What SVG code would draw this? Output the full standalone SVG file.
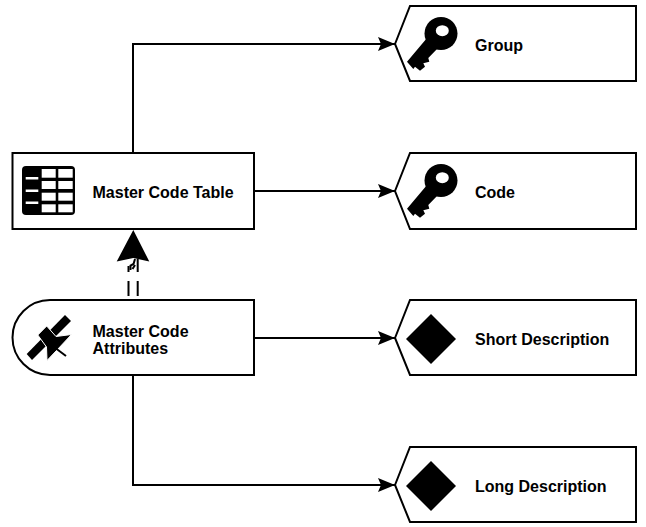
<svg xmlns="http://www.w3.org/2000/svg" width="646" height="527" viewBox="0 0 646 527">
<defs>
<style>
.box{fill:#fff;stroke:#000;stroke-width:2}
.c{fill:none;stroke:#000;stroke-width:2}
.d{fill:none;stroke:#000;stroke-width:2}
.t{font-family:"Liberation Sans",Arial,sans-serif;font-size:16px;font-weight:bold;fill:#000}
.i{fill:#000;stroke:none}
.w{fill:#fff;stroke:none}
</style>
<marker id="a" markerUnits="userSpaceOnUse" markerWidth="18" markerHeight="14" refX="17" refY="7" orient="auto"><path d="M0 0L17 7L0 14L3 7Z" fill="#000"/></marker>
<g id="key">
<circle class="i" cx="34" cy="27.500" r="16.500"/>
<path class="i" d="M0 55.700L20 32L31 42L21.300 52L22.300 55.700L16.300 57.300L18 60.700L13 64.700L8 60.700L6.300 63Z"/>
<ellipse class="w" cx="35.300" cy="24.700" rx="6.500" ry="5.500"/>
</g>
</defs>
<rect width="646" height="527" fill="#fff"/>
<g id="connectors">
<path class="c" marker-end="url(#a)" d="M133 153V44H395"/>
<path class="c" marker-end="url(#a)" d="M254 191H395"/>
<path class="c" marker-end="url(#a)" d="M254 338H395"/>
<path class="c" marker-end="url(#a)" d="M133 375V485H395"/>
<path d="M133.300 230L149.300 261.500L133.300 258L116.700 261.500Z" fill="#000"/>
<path class="d" d="M128.500 266V272M137.700 259V272M128.500 281V296M137.700 281V296"/>
<path class="d" d="M135 259L133.500 264L130.500 265.500L130.500 270M135 265L132.500 269"/>
</g>
<g id="group">
<path class="box" d="M395 44L410 6H636V81H410Z"/>
<use href="#key" x="407" y="6"/>
<text class="t" x="475" y="51">Group</text>
</g>
<g id="code">
<path class="box" d="M395 191L410 153H636V229H410Z"/>
<use href="#key" x="407" y="153"/>
<text class="t" x="475" y="198">Code</text>
</g>
<g id="short-description">
<path class="box" d="M395 338L410 300H636V375H410Z"/>
<path class="i" d="M431 314L456 339L431 364L406 339Z"/>
<text class="t" x="475" y="345">Short Description</text>
</g>
<g id="long-description">
<path class="box" d="M395 485L410 447H636V522H410Z"/>
<path class="i" d="M431 461L456 486L431 511L406 486Z"/>
<text class="t" x="475" y="492">Long Description</text>
</g>
<g id="master-code-table">
<rect class="box" x="12.500" y="153" width="241.500" height="76"/>
<rect class="i" x="22" y="166" width="53" height="49" rx="4"/>
<rect class="w" x="41.700" y="169" width="14" height="8.700"/><rect class="w" x="58.300" y="169" width="14.400" height="8.700"/>
<rect class="w" x="41.700" y="181" width="14" height="8"/><rect class="w" x="58.300" y="181" width="14.400" height="8"/>
<rect class="w" x="41.700" y="192.700" width="14" height="8"/><rect class="w" x="58.300" y="192.700" width="14.400" height="8"/>
<rect class="w" x="41.700" y="204.300" width="14" height="8"/><rect class="w" x="58.300" y="204.300" width="14.400" height="8"/>
<rect class="w" x="25.700" y="177" width="12.600" height="2.500"/><rect class="w" x="25.700" y="189.500" width="12.600" height="2.500"/><rect class="w" x="25.700" y="201.500" width="12.600" height="2.500"/>
<text class="t" x="92.500" y="197.500">Master Code Table</text>
</g>
<g id="master-code-attributes">
<path class="box" d="M50 300H254V375H50A37.500 37.500 0 0 1 50 300Z"/>
<path class="i" d="M26.700 354L65 315L71 321L32 360Z"/>
<path style="fill:#000;stroke:#fff;stroke-width:1" d="M37.800 335L46.700 326L56 336.500L71.500 334.500L57 350L47 360.500L46.500 347Z"/>
<path class="c" d="M54 347L66 356"/>
<text class="t" x="92.500" y="336.500">Master Code</text>
<text class="t" x="92.500" y="354">Attributes</text>
</g>
</svg>
